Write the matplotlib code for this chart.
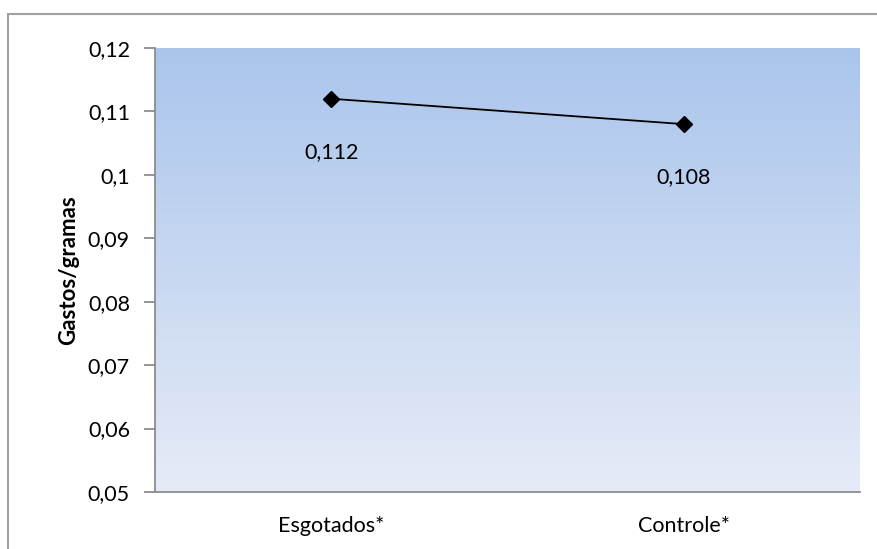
import numpy as np
import matplotlib.pyplot as plt
from matplotlib.patches import Rectangle

categorias = ['Esgotados*', 'Controle*']
valores = [0.112, 0.108]
rotulos = ['0,112', '0,108']
yticks = [0.05, 0.06, 0.07, 0.08, 0.09, 0.10, 0.11, 0.12]
ytick_labels = ['0,05', '0,06', '0,07', '0,08', '0,09', '0,1', '0,11', '0,12']

plt.rcParams['font.family'] = ['Lato', 'DejaVu Sans']

fig = plt.figure(figsize=(8.78, 5.49), dpi=100)
ax = fig.add_axes([155 / 878, 1 - 492 / 549, 705 / 878, 444 / 549])

# borda externa do grafico (cortada a direita e embaixo)
fig.patches.append(Rectangle((8 / 878, -0.1), 1.0, 1 - 14 / 549 + 0.1,
                             transform=fig.transFigure, fill=False,
                             edgecolor='#a0a0a0', linewidth=1.5))

# fundo em degrade
top = np.array([170, 197, 236]) / 255
bot = np.array([230, 235, 247]) / 255
t = np.linspace(0, 1, 256)[:, None]
grad = bot * (1 - t) + top * t
ax.imshow(grad[:, None, :], extent=[-0.5, 1.5, 0.05, 0.12], aspect='auto',
          origin='lower', zorder=0)

x = np.arange(len(categorias))
ax.plot(x, valores, color='black', linewidth=1.3, marker='D', markersize=8.5,
        zorder=3)
for xi, v, r in zip(x, valores, rotulos):
    ax.annotate(r, (xi, v), xytext=(0, -53), textcoords='offset pixels',
                ha='center', va='center', fontsize=15.5)

ax.set_xlim(-0.5, 1.5)
ax.set_ylim(0.05, 0.12)
ax.set_yticks(yticks)
ax.set_yticklabels(ytick_labels, fontsize=15.5)
ax.set_xticks(x)
ax.set_xticklabels(categorias, fontsize=15.5)
ax.tick_params(axis='x', length=0, pad=17)
ax.tick_params(axis='y', length=8, color='#8c8c8c', width=1.3, pad=10)

for s in ['top', 'right']:
    ax.spines[s].set_visible(False)
for s in ['left', 'bottom']:
    ax.spines[s].set_color('#8c8c8c')
    ax.spines[s].set_linewidth(1.3)

ax.set_ylabel('Gastos/gramas', fontsize=16, fontweight='bold', labelpad=6)

fig.savefig('out.png', dpi=100)
